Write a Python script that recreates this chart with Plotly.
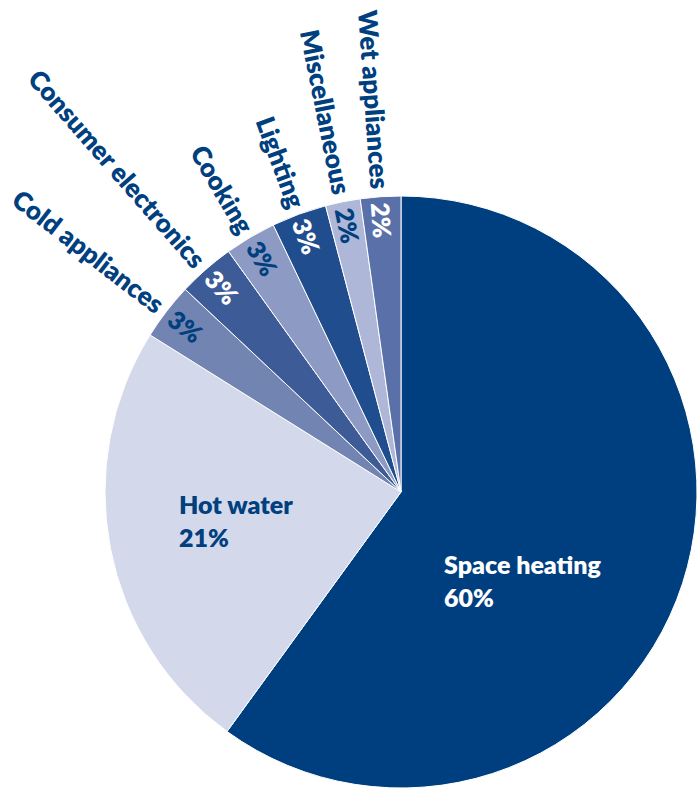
import math
import plotly.graph_objects as go

# ---- data ----
categories = ["Space heating", "Hot water", "Cold appliances", "Consumer electronics",
              "Cooking", "Lighting", "Miscellaneous", "Wet appliances"]
shares = [60.0, 23.9, 3.1, 3.1, 2.8, 3.0, 1.9, 2.2]          # slice sizes
pct_labels = ["60%", "21%", "3%", "3%", "3%", "3%", "2%", "2%"]  # printed labels

# ---- style ----
W, H = 699, 789
CX, CY, R = 401, 492, 296
slice_colors = ["#003f7f", "#d3d8ea", "#7284b1", "#3c5b97", "#8c9ac4", "#1f4d8d", "#aeb7d7", "#5a70a8"]
NAVY = "#00407f"
pct_colors = ["white", NAVY, NAVY, "white", NAVY, "white", NAVY, "white"]
FONT = "Lato"
FS = 26
WEIGHT = 800
big_label_pos = {0: (18, 0.51), 1: (1, 0.565)}   # (angle offset deg, radius fraction)

fig = go.Figure(go.Pie(
    labels=categories, values=shares, sort=False, direction="clockwise", rotation=0,
    marker=dict(colors=slice_colors, line=dict(color="white", width=1)),
    textinfo="none", hoverinfo="skip", showlegend=False,
    domain=dict(x=[(CX - R) / W, (CX + R) / W], y=[(H - CY - R) / H, (H - CY + R) / H]),
))

def px2paper(x, y):
    return x / W, 1 - y / H

total = sum(shares)
cum = 0.0
ann = []
for i, (cat, v) in enumerate(zip(categories, shares)):
    start = cum / total * 360
    cum += v
    end = cum / total * 360
    mid = (start + end) / 2
    th = math.radians(mid)
    ux, uy = math.sin(th), -math.cos(th)  # outward unit vector (screen coords)
    if i in big_label_pos:
        off, rf = big_label_pos[i]
        t = math.radians(mid + off)
        x, y = CX + rf * R * math.sin(t), CY - rf * R * math.cos(t)
        px, py = px2paper(x, y)
        ann.append(dict(x=px, y=py, xref="paper", yref="paper", showarrow=False,
                        text=f"{cat}<br>{pct_labels[i]}", align="left",
                        xanchor="center", yanchor="middle",
                        font=dict(family=FONT, size=FS - 1, color=pct_colors[i], weight=WEIGHT)))
    else:
        a = mid + 90 - 360  # text angle, reading towards the centre
        ar = math.radians(a)
        # percentage inside slice
        x, y = CX + 272 * ux, CY + 272 * uy
        px, py = px2paper(x, y)
        ann.append(dict(x=px, y=py, xref="paper", yref="paper", showarrow=False,
                        text=pct_labels[i], textangle=a, xanchor="center", yanchor="middle",
                        borderpad=0, borderwidth=0,
                        font=dict(family=FONT, size=FS - 1, color=pct_colors[i], weight=WEIGHT)))
        # category label outside, text ends near the rim
        ex, ey = CX + (R + 8) * ux, CY + (R + 8) * uy
        hh = FS * 1.3 / 2
        bx, by = ex + hh * math.sin(ar), ey + hh * math.cos(ar)
        px, py = px2paper(bx, by)
        ann.append(dict(x=px, y=py, xref="paper", yref="paper", showarrow=False,
                        text=cat, textangle=a, xanchor="right", yanchor="bottom",
                        borderpad=0, borderwidth=0,
                        font=dict(family=FONT, size=FS, color=NAVY, weight=WEIGHT)))

fig.update_layout(width=W, height=H, margin=dict(l=0, r=0, t=0, b=0),
                  paper_bgcolor="white", plot_bgcolor="white", annotations=ann)
fig.write_html("out.html")
